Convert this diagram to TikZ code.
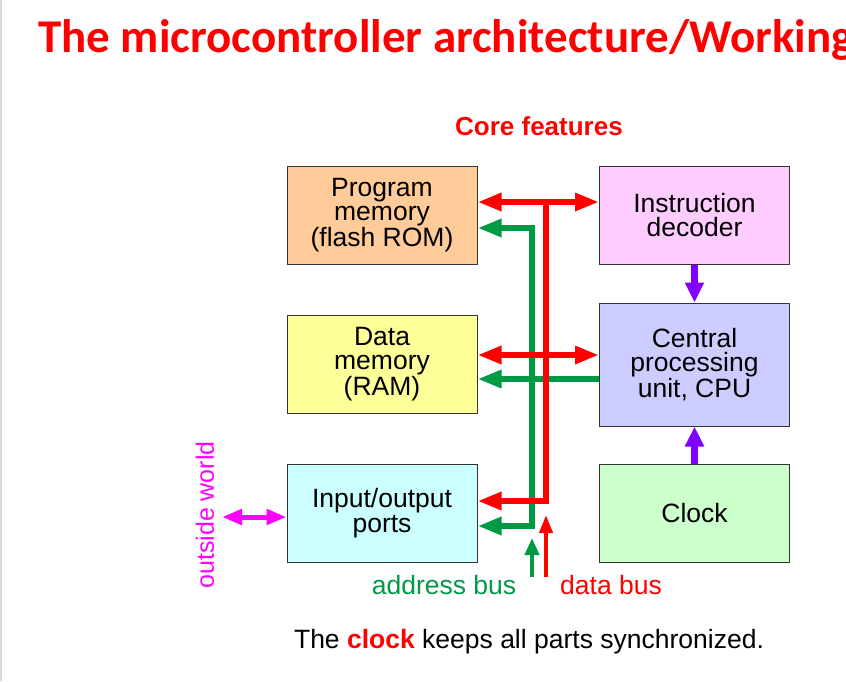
\documentclass[tikz,border=0pt]{standalone}
\usepackage{fontspec}
\setmainfont{Liberation Sans}
\newfontfamily\titlefont{Carlito}
\usetikzlibrary{arrows.meta}
\definecolor{busred}{HTML}{FF0000}
\definecolor{busgreen}{HTML}{009944}
\definecolor{purp}{HTML}{8000FF}
\definecolor{magen}{HTML}{FF00FF}
\definecolor{cOrange}{HTML}{FFCC99}
\definecolor{cPink}{HTML}{FFCCFF}
\definecolor{cYellow}{HTML}{FFFF99}
\definecolor{cLav}{HTML}{CCCCFF}
\definecolor{cCyan}{HTML}{CCFFFF}
\definecolor{cGreen}{HTML}{CCFFCC}
\begin{document}
\begin{tikzpicture}[x=1pt,y=-1pt,
  block/.style={draw=black!80,line width=1pt,minimum width=190pt,align=center,
    inner sep=0pt,font=\fontsize{26.5}{24.5}\selectfont},
  bus/.style={line width=6pt,line join=miter},
  bigtip/.style={-{Triangle[length=24pt,width=17pt]}},
  bigtips/.style={{Triangle[length=24pt,width=17pt]}-{Triangle[length=24pt,width=17pt]}},
  lbl/.style={font=\fontsize{26.5}{28}\selectfont,inner sep=0pt}]
\useasboundingbox (0,0) rectangle (846,681);
\clip (0,0) rectangle (846,681);
\fill[white] (0,0) rectangle (846,681);
\draw[black!15,line width=2pt] (1,0) -- (1,681);
\node[anchor=base west,inner sep=0pt,text=busred,font=\titlefont\bfseries\fontsize{47}{50}\selectfont] (title) at (38,52) {The microcontroller architecture/Working};
\node[lbl,text=busred,font=\bfseries\fontsize{26}{28}\selectfont,anchor=base] (core) at (539,135) {Core features};
% blocks
\node[block,fill=cOrange,minimum height=98pt] (pm) at (382,215) {Program\\memory\\(flash ROM)};
\node[block,fill=cPink,minimum height=98pt] (id) at (694.5,215) {Instruction\\decoder};
\node[block,fill=cYellow,minimum height=98pt] (dm) at (382,364) {Data\\memory\\(RAM)};
\node[block,fill=cLav,minimum height=123pt] (cpu) at (694.5,364.5) {Central\\processing\\unit, CPU};
\node[block,fill=cCyan,minimum height=98pt] (io) at (382,513) {Input/output\\ports};
\node[block,fill=cGreen,minimum height=98pt] (clk) at (694.5,513) {Clock};
% bus coordinates
\coordinate (g1) at (532,228);
\coordinate (g2) at (532,526);
\coordinate (g3) at (532,379);
\coordinate (r1) at (546,202);
\coordinate (r2) at (546,501);
\coordinate (r3) at (546,355);
\coordinate (abus) at (532,577);
\coordinate (dbus) at (546,577);
% green address bus
\draw[bus,busgreen,bigtips] (pm.east |- g1) -- (g1) -- (g2) -- (io.east |- g2);
\draw[bus,busgreen,bigtip] (cpu.west |- g3) -- (dm.east |- g3);
% red data bus
\draw[bus,busred,bigtips] (pm.east |- r1) -- (id.west |- r1);
\draw[bus,busred,bigtip] (r1) -- (r2) -- (io.east |- r2);
\draw[bus,busred,bigtips] (dm.east |- r3) -- (cpu.west |- r3);
% bus inputs
\draw[line width=4pt,busgreen,-{Triangle[length=17pt,width=14pt]}] (abus) -- (532,538);
\draw[line width=4pt,busred,-{Triangle[length=18pt,width=13pt]}] (dbus) -- (546,515);
% purple
\draw[line width=7pt,purp,-{Triangle[length=20pt,width=18pt]}] (id.south) -- (cpu.north);
\draw[line width=7pt,purp,-{Triangle[length=20pt,width=18pt]}] (clk.north) -- (cpu.south);
% outside world
\coordinate (ow) at (222,517);
\draw[line width=5pt,magen,{Triangle[length=20pt,width=15pt]}-{Triangle[length=20pt,width=15pt]}] (ow) -- (io.west |- ow);
\node[lbl,text=magen,rotate=90,font=\fontsize{25}{28}\selectfont] (owt) at (205,515) {outside world};
% labels
\node[lbl,text=busgreen,anchor=base] (albl) at (444,594) {address bus};
\node[lbl,text=busred,anchor=base] (dlbl) at (611,594) {data bus};
\node[lbl,anchor=base] (note) at (529,648) {The \textcolor{busred}{\bfseries clock} keeps all parts synchronized.};
\end{tikzpicture}
\end{document}
